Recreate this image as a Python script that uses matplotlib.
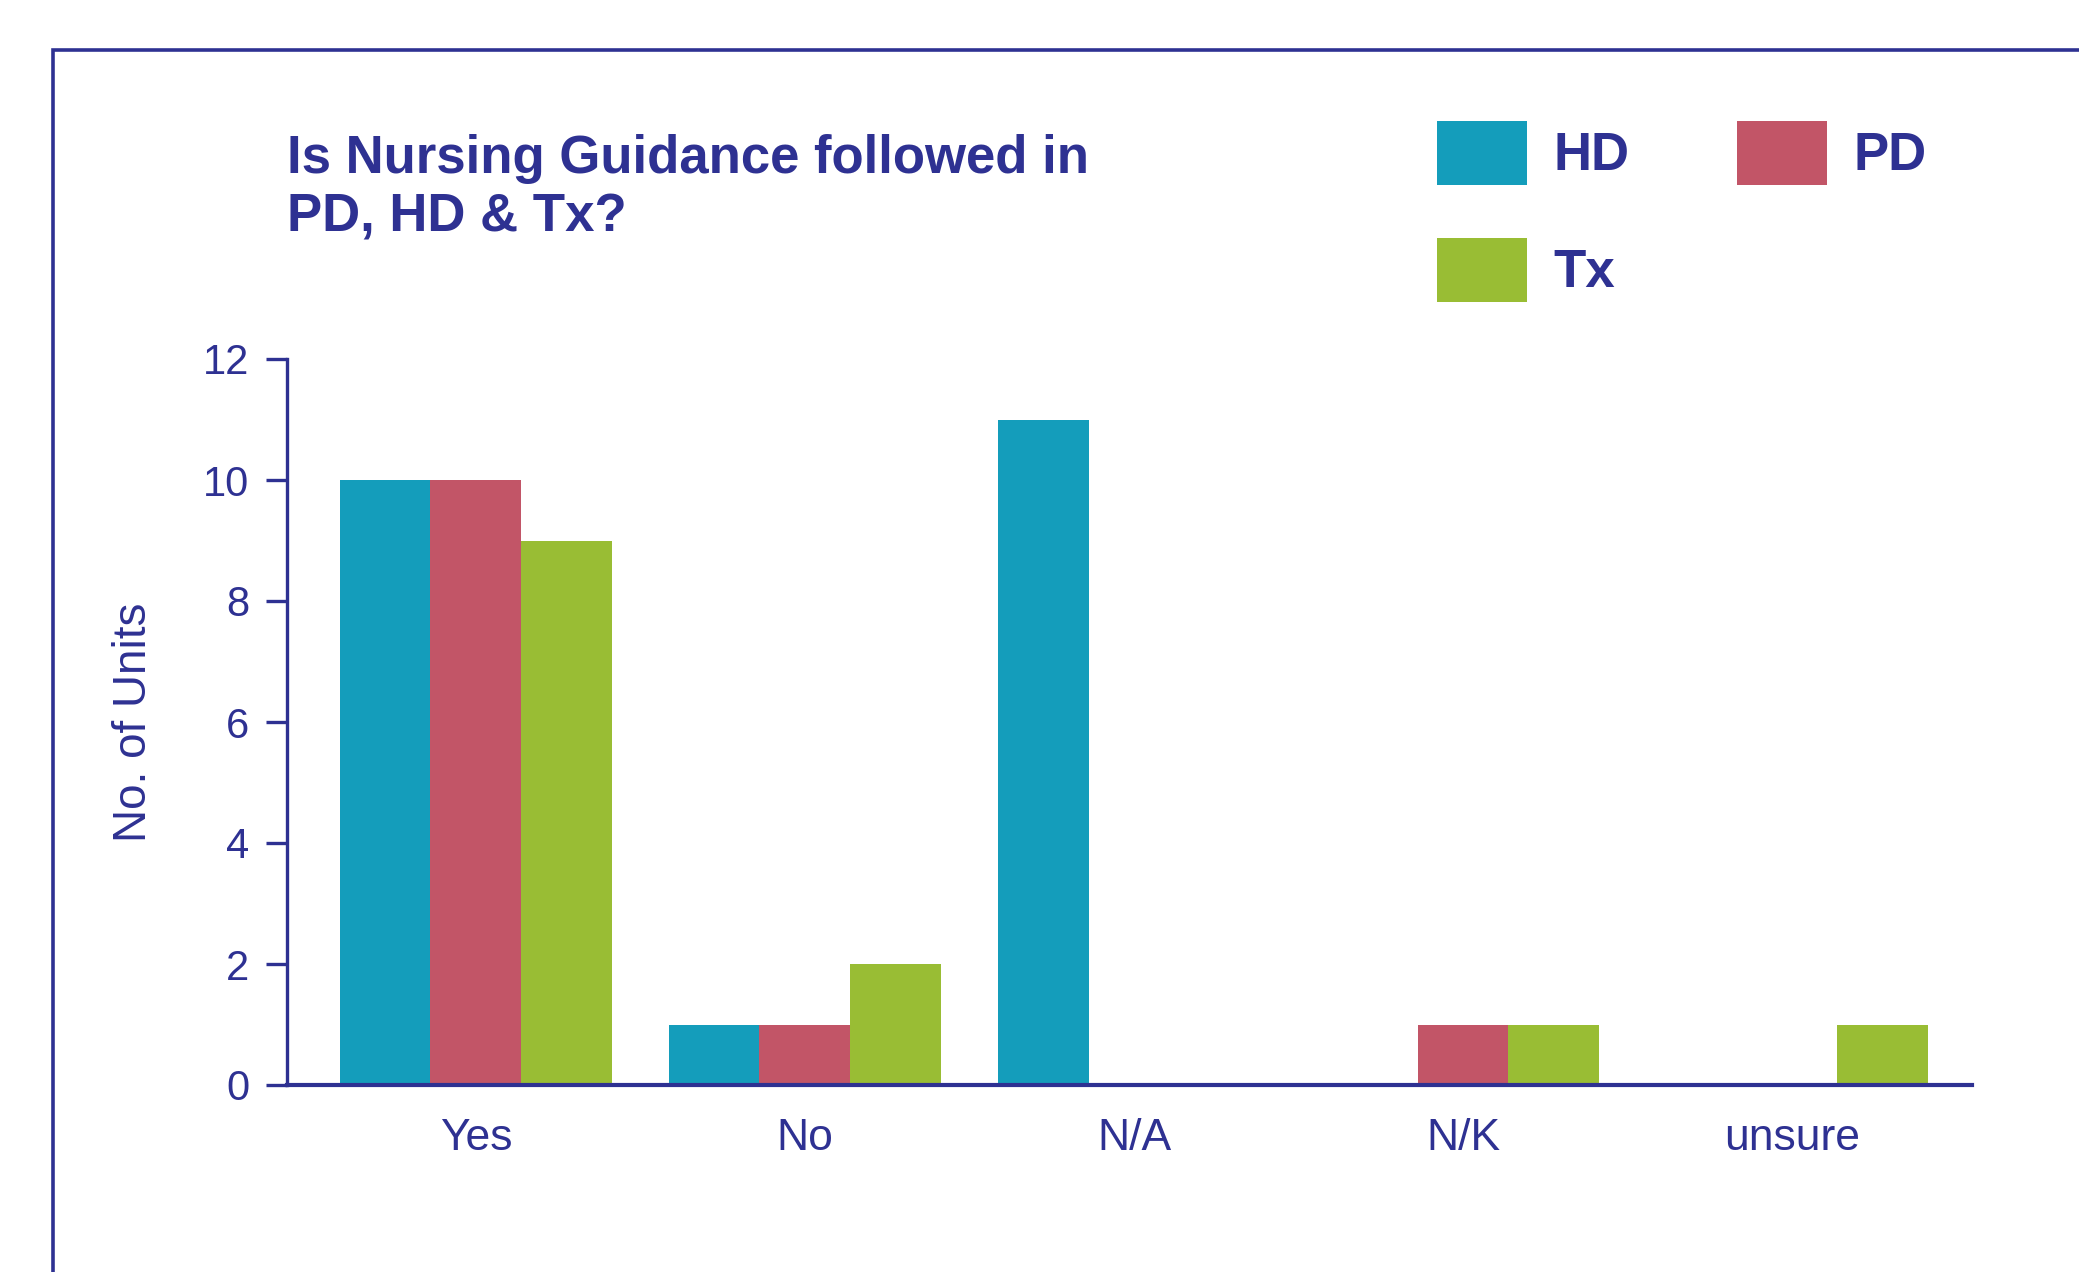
import matplotlib
matplotlib.use("Agg")
import matplotlib.pyplot as plt
from matplotlib.patches import Rectangle
import numpy as np

plt.rcParams['font.family'] = ['Liberation Sans', 'DejaVu Sans']

categories = ["Yes", "No", "N/A", "N/K", "unsure"]
series_names = ["HD", "PD", "Tx"]
hd_values = [10, 1, 11, 0, 0]
pd_values = [10, 1, 0, 1, 0]
tx_values = [9, 2, 0, 1, 1]
y_ticks = [0, 2, 4, 6, 8, 10, 12]

navy = '#2E3192'
colors = ['#149DBB', '#C25567', '#99BD34']

fig = plt.figure(figsize=(20.79, 12.72), dpi=100)
ax = fig.add_axes([287 / 2079, 187 / 1272, (1972 - 287) / 2079, (1085 - 359) / 1272])

x = np.arange(len(categories))
w = 0.276
bars = []
for i, vals in enumerate([hd_values, pd_values, tx_values]):
    b = ax.bar(x + (i - 1) * w, vals, w, color=colors[i], label=series_names[i])
    bars.append(b)

ax.set_xlim(-0.574, 4.547)
ax.set_ylim(0, 12)
ax.set_yticks(y_ticks)
ax.set_xticks(x)
ax.set_xticklabels(categories)

for s in ['top', 'right']:
    ax.spines[s].set_visible(False)
for s in ['left', 'bottom']:
    ax.spines[s].set_color(navy)
    ax.spines[s].set_linewidth(2.4)
ax.spines['bottom'].set_linewidth(3)
ax.spines['bottom'].set_zorder(5)

ax.tick_params(axis='y', colors=navy, labelsize=30, length=15, width=2.4, pad=12)
ax.tick_params(axis='x', colors=navy, labelsize=32, length=0, pad=24)
ax.set_ylabel("No. of Units", color=navy, fontsize=33, labelpad=34)

# title
fig.text(287 / 2079, 1 - 134 / 1272, "Is Nursing Guidance followed in\nPD, HD & Tx?",
         fontsize=38, fontweight='bold', color=navy, ha='left', va='top', linespacing=1.22)

# legend (order so that HD/PD are on the first row)
handles = [bars[0], bars[2], bars[1]]
labels = ["HD", "Tx", "PD"]
leg = fig.legend(handles, labels, loc='upper left', bbox_to_anchor=(1437 / 2079, 1 - 121 / 1272),
                 ncol=2, frameon=False, borderpad=0, borderaxespad=0,
                 handlelength=1.7, handleheight=1.49, handletextpad=0.5,
                 columnspacing=2.05, labelspacing=1.0,
                 prop={'size': 38, 'weight': 'bold'})
for t in leg.get_texts():
    t.set_color(navy)

# outer frame, clipped by the figure edges
fig.patches.append(Rectangle((53 / 2079, -0.1), 1.2, 1 - 50 / 1272 + 0.1, transform=fig.transFigure,
                             fill=False, edgecolor=navy, linewidth=2.6, figure=fig))

fig.savefig("out.png", dpi=100)
